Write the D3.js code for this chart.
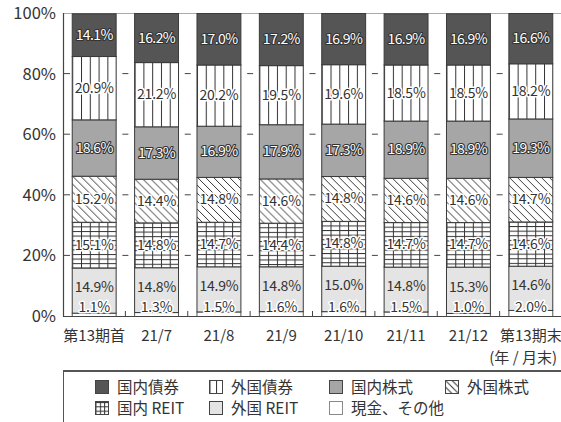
<!DOCTYPE html>
<html>
<head>
<meta charset="utf-8">
<script src="https://cdn.jsdelivr.net/npm/d3@7"></script>
<style>
body{margin:0;background:#fff;}
text{font-family:"Noto Sans CJK JP","Noto Sans",sans-serif;}
</style>
</head>
<body>
<div id="chart"></div>
<script>
// categories (x axis)
var categories = ["第13期首","21/7","21/8","21/9","21/10","21/11","21/12","第13期末"]
// series, bottom to top of each bar
var genkin   = [1.1,1.3,1.5,1.6,1.6,1.5,1.0,2.0]
var gaiReit  = [14.9,14.8,14.9,14.8,15.0,14.8,15.3,14.6]
var naiReit  = [15.1,14.8,14.7,14.4,14.8,14.7,14.7,14.6]
var gaiKabu  = [15.2,14.4,14.8,14.6,14.8,14.6,14.6,14.7]
var naiKabu  = [18.6,17.3,16.9,17.9,17.3,18.9,18.9,19.3]
var gaiSai   = [20.9,21.2,20.2,19.5,19.6,18.5,18.5,18.2]
var naiSai   = [14.1,16.2,17.0,17.2,16.9,16.9,16.9,16.6]
var yTicks = [0,20,40,60,80,100]
var unitLabel = "(年 / 月末)"

var series = [
    {key:"genkin", name:"現金、その他", values:genkin, style:"white"},
    {key:"gaiReit", name:"外国 REIT", values:gaiReit, style:"light"},
    {key:"naiReit", name:"国内 REIT", values:naiReit, style:"grid"},
    {key:"gaiKabu", name:"外国株式", values:gaiKabu, style:"diag"},
    {key:"naiKabu", name:"国内株式", values:naiKabu, style:"gray"},
    {key:"gaiSai", name:"外国債券", values:gaiSai, style:"vert"},
    {key:"naiSai", name:"国内債券", values:naiSai, style:"dark"}
]
// legend order as in the picture
var legendOrder = ["naiSai","gaiSai","naiKabu","gaiKabu","naiReit","gaiReit","genkin"]

var W = 561, H = 422
var svg = d3.select("#chart").append("svg").attr("width",W).attr("height",H)
var defs = svg.append("defs")

var x = d3.scaleBand().domain(categories).range([63,562]).paddingInner(0.28).paddingOuter(0.14)
var y = d3.scaleLinear().domain([0,100]).range([316,13])
var step = x.step(), bw = x.bandwidth()

var lineCol = "#333"

// patterns anchored to a given box so lines sit the same way in every bar
function makePattern(id, type, x0, y0, pw, ph){
    var p = defs.append("pattern").attr("id",id)
        .attr("patternUnits","userSpaceOnUse")
        .attr("x",x0).attr("y",y0).attr("width",pw).attr("height",ph)
    p.append("rect").attr("width",pw).attr("height",ph).attr("fill","#fff")
    if(type=="vert"||type=="grid"){
        p.append("line").attr("x1",0.5).attr("x2",0.5).attr("y1",0).attr("y2",ph)
            .attr("stroke",lineCol).attr("stroke-width",1)
    }
    if(type=="grid"){
        p.append("line").attr("x1",0).attr("x2",pw).attr("y1",0.5).attr("y2",0.5)
            .attr("stroke",lineCol).attr("stroke-width",1)
    }
    if(type=="diag"){
        p.append("path").attr("d","M0,0L"+pw+","+ph+"M"+(-2)+","+(ph-2)+"L2,"+(ph+2)+"M"+(pw-2)+",-2L"+(pw+2)+",2")
            .attr("stroke",lineCol).attr("stroke-width",1)
    }
    return "url(#"+id+")"
}

function fillFor(s, i, x0, y0, w){
    if(s.style=="dark") return "#555"
    if(s.style=="gray") return "#a6a6a6"
    if(s.style=="light") return "#e4e4e4"
    if(s.style=="white") return "#fff"
    if(s.style=="vert") return makePattern("v"+i, "vert", x0, y0, w/5, 10)
    if(s.style=="grid") return makePattern("g"+i, "grid", x0, y0, w/5, 4.6)
    if(s.style=="diag") return makePattern("d"+i, "diag", x0, y0, 8, 8)
}

// stack
var table = categories.map(function(c,i){
    var row = {cat:c}
    series.forEach(function(s){ row[s.key] = s.values[i] })
    return row
})
var stacked = d3.stack().keys(series.map(function(s){return s.key}))(table)

// frame
svg.append("line").attr("x1",63).attr("x2",W).attr("y1",y(100)+0.5).attr("y2",y(100)+0.5)
    .attr("stroke","#aaa").attr("stroke-width",1)

// grid dashes between bars
var bounds = d3.range(1,categories.length).map(function(k){ return 63+k*step })
yTicks.filter(function(t){return t>0&&t<100}).forEach(function(t){
    svg.selectAll(null).data(bounds).enter().append("line")
        .attr("x1",function(d){return d-3}).attr("x2",function(d){return d+3})
        .attr("y1",y(t)).attr("y2",y(t))
        .attr("stroke","#444").attr("stroke-width",1)
    svg.append("line").attr("x1",63).attr("x2",70).attr("y1",y(t)).attr("y2",y(t))
        .attr("stroke","#444").attr("stroke-width",1)
})

// bars
stacked.forEach(function(layer,si){
    var s = series[si]
    svg.append("g").selectAll("rect").data(layer).enter().append("rect")
        .attr("x",function(d,i){return x(categories[i])+0.5})
        .attr("y",function(d){return y(d[1])+0.5})
        .attr("width",bw-1)
        .attr("height",function(d){return Math.max(0,y(d[0])-y(d[1]))})
        .attr("fill",function(d,i){return fillFor(s,i,x(categories[i])+0.5,y(d[1]),bw-1)})
        .attr("stroke",s.style=="white"?"#555":"#3a3a3a")
        .attr("stroke-width",1)
})

// labels
stacked.forEach(function(layer,si){
    var s = series[si]
    var inverse = (s.style=="dark"||s.style=="gray")
    var halo = (s.style!="light")
    svg.append("g").selectAll("text").data(layer).enter().append("text")
        .attr("x",function(d,i){return x(categories[i])+bw/2})
        .attr("y",function(d){
            if(s.key=="genkin") return y(0)-9
            if(s.key=="gaiReit") return (y(d[0])+y(d[1]))/2-3
            return (y(d[0])+y(d[1]))/2
        })
        .attr("dy","0.36em")
        .attr("text-anchor","middle")
        .attr("font-size","14px")
        .attr("letter-spacing",inverse?"-0.6px":"-0.2px")
        .attr("fill",inverse?"#fff":"#333")
        .attr("stroke",inverse?"#333":(halo?"#fff":"none"))
        .attr("stroke-width",inverse?2.2:3)
        .attr("stroke-linejoin","round")
        .attr("paint-order","stroke")
        .text(function(d,i){return s.values[i].toFixed(1)+"%"})
})

// axes
svg.append("line").attr("x1",63.5).attr("x2",63.5).attr("y1",y(100)).attr("y2",y(0))
    .attr("stroke","#444").attr("stroke-width",1.2)
svg.append("line").attr("x1",63).attr("x2",W).attr("y1",y(0)+0.5).attr("y2",y(0)+0.5)
    .attr("stroke","#444").attr("stroke-width",1.2)
svg.selectAll(null).data(bounds).enter().append("line")
    .attr("x1",function(d){return d}).attr("x2",function(d){return d})
    .attr("y1",y(0)-5).attr("y2",y(0))
    .attr("stroke","#444").attr("stroke-width",1)

svg.selectAll(null).data(yTicks).enter().append("text")
    .attr("x",56).attr("y",function(d){return y(d)})
    .attr("dy","0.36em").attr("text-anchor","end")
    .attr("font-size","16.5px").attr("fill","#333")
    .text(function(d){return d+"%"})

svg.selectAll(null).data(categories).enter().append("text")
    .attr("x",function(d){return x(d)+bw/2}).attr("y",336)
    .attr("dy","0.36em").attr("text-anchor","middle")
    .attr("font-size","15px").attr("fill","#333")
    .text(function(d){return d})
svg.append("text").attr("x",557).attr("y",358).attr("dy","0.36em")
    .attr("text-anchor","end").attr("font-size","15px").attr("fill","#333")
    .text(unitLabel)

// legend box
svg.append("rect").attr("x",63.5).attr("y",371).attr("width",W).attr("height",80)
    .attr("fill","#fff").attr("stroke","#555").attr("stroke-width",1)
svg.append("line").attr("x1",63).attr("x2",W).attr("y1",371).attr("y2",371)
    .attr("stroke","#555").attr("stroke-width",2)

var colX = [95,209,329,445]
var rowY = [387,408]
legendOrder.forEach(function(k,i){
    var s = series.filter(function(d){return d.key==k})[0]
    var lx = colX[i%4], ly = rowY[Math.floor(i/4)]
    var sw = 13
    var f
    if(s.style=="vert") f = makePattern("lv", "vert", lx+0.5, ly-6.5, sw/2, sw)
    else if(s.style=="grid") f = makePattern("lg", "grid", lx+0.5, ly-6.5+0.5, sw/3, sw/3)
    else if(s.style=="diag") f = makePattern("ld", "diag", lx+0.5, ly-6.5, 6.5, 6.5)
    else f = fillFor(s,0)
    svg.append("rect").attr("x",lx+0.5).attr("y",ly-6.5).attr("width",sw).attr("height",sw)
        .attr("fill",f).attr("stroke",s.style=="white"?"#888":"#444").attr("stroke-width",1)
    svg.append("text").attr("x",lx+22).attr("y",ly).attr("dy","0.36em")
        .attr("font-size","15.5px").attr("fill","#333")
        .text(s.name)
})
</script>
</body>
</html>
